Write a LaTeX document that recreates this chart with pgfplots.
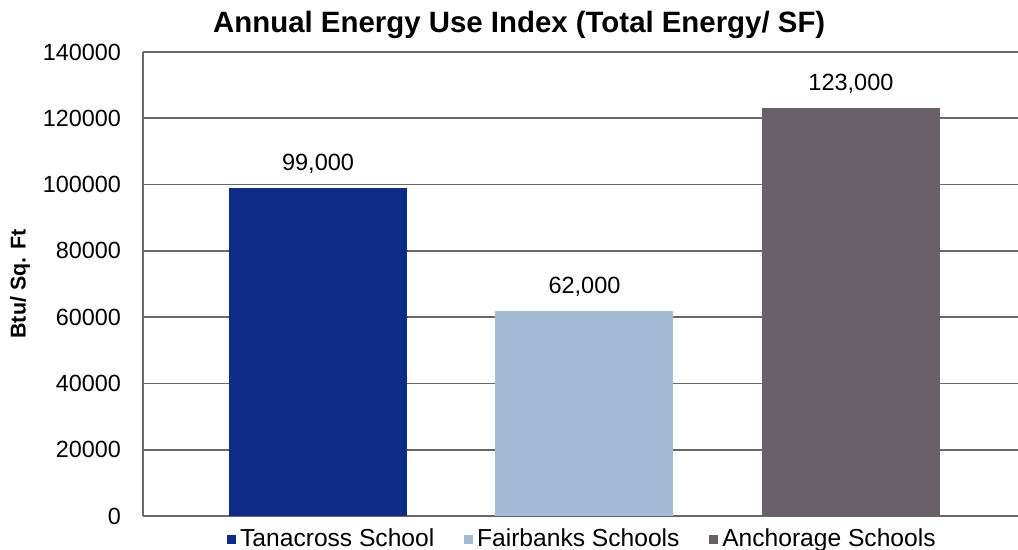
\documentclass[border=0pt]{standalone}
\usepackage{pgfplots}
\pgfplotsset{compat=1.18}
\usepackage{fontspec}
\setmainfont{Liberation Sans}

\definecolor{tanacross}{RGB}{14,44,134}
\definecolor{fairbanks}{RGB}{164,188,214}
\definecolor{anchorage}{RGB}{106,96,106}
\definecolor{gridgray}{RGB}{105,105,105}

\begin{document}
\begin{tikzpicture}
\begin{axis}[
    scale only axis,
    width=437.5pt, height=232pt,
    ybar, bar width=89pt, bar shift=0pt,
    xmin=-0.657, xmax=2.627,
    ymin=0, ymax=140000,
    ytick={0,20000,40000,60000,80000,100000,120000,140000},
    yticklabels={0,20000,40000,60000,80000,100000,120000,140000},
    scaled y ticks=false,
    xtick=\empty,
    axis x line*=bottom, axis y line*=left,
    axis line style={draw=gridgray, line width=0.9pt},
    ymajorgrids,
    grid style={draw=gridgray, line width=0.9pt},
    major tick length=0pt,
    yticklabel style={font=\fontsize{11.7}{13}\selectfont, xshift=-7.5pt},
    title={Annual Energy Use Index (Total Energy/ SF)},
    title style={font=\fontsize{14.7}{16}\selectfont\bfseries, at={(rel axis cs:0.43,1)}, anchor=base, yshift=3.5pt},
    ylabel={Btu/ Sq. Ft},
    ylabel style={font=\fontsize{10.7}{12}\selectfont\bfseries, at={(rel axis cs:0,0.5)}, anchor=center, yshift=61.5pt},
    point meta=explicit symbolic,
    nodes near coords,
    nodes near coords style={font=\fontsize{11.75}{13}\selectfont, inner sep=0pt, anchor=south, yshift=7pt},
    legend columns=3,
    legend style={at={(rel axis cs:0.5,0)}, anchor=north, yshift=-4pt, xshift=1.5pt, draw=none, fill=none,
        font=\fontsize{12.3}{14}\selectfont, inner sep=0pt,
        /tikz/every even column/.append style={column sep=13pt}},
    legend image code/.code={\fill[#1] (0pt,-2.6pt) rectangle (4.4pt,2.0pt);},
]
\addplot[fill=tanacross, draw=none] coordinates {(0,99000) [99,000]};
\addlegendentry{Tanacross School}
\addplot[fill=fairbanks, draw=none] coordinates {(1,62000) [62,000]};
\addlegendentry{Fairbanks Schools}
\addplot[fill=anchorage, draw=none] coordinates {(2,123000) [123,000]};
\addlegendentry{Anchorage Schools}
\end{axis}
\pgfresetboundingbox
\path[use as bounding box] (current axis.south west) ++(-71.5pt,-17pt) rectangle ++(509pt,275pt);
\end{tikzpicture}
\end{document}
